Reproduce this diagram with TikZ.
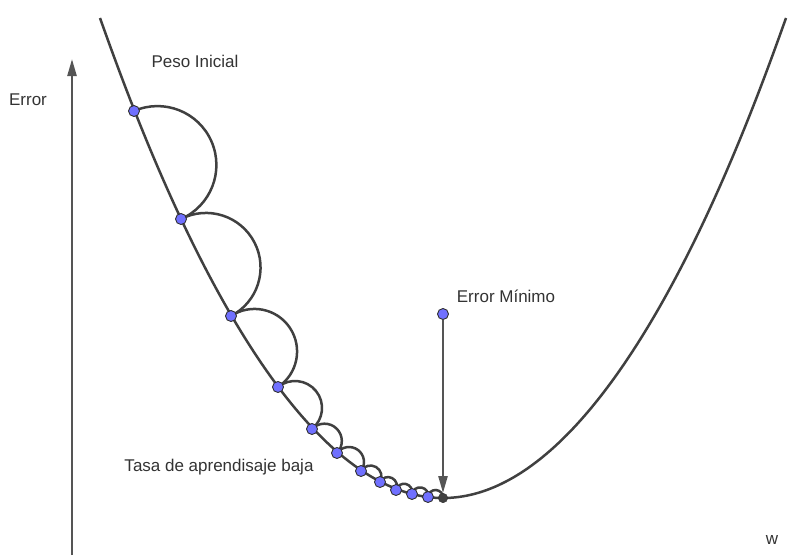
\documentclass[tikz,border=0pt]{standalone}
\usepackage{fontspec}
\setmainfont{Liberation Sans}
\usetikzlibrary{calc,arrows.meta}
\usepackage{xcolor}
\definecolor{CurveGray}{HTML}{404040}
\definecolor{ArrowGray}{HTML}{555555}
\definecolor{PointBlue}{HTML}{7070FF}
\definecolor{PointEdge}{HTML}{303030}
\definecolor{LabelGray}{HTML}{333333}

\tikzset{
  curve/.style={CurveGray, line width=2.5pt},
  hop/.style={CurveGray, line width=2.5pt},
  wpoint/.style={fill=PointBlue, draw=PointEdge, circle, line width=0.9pt, inner sep=0pt, minimum size=11pt},
  minpoint/.style={fill=CurveGray, draw=PointEdge, circle, inner sep=0pt, minimum size=9.5pt},
  lbl/.style={text=LabelGray, font=\fontsize{17}{20}\selectfont, inner sep=0pt},
  pointer/.style={ArrowGray, line width=2.4pt, -{Triangle[length=17pt,width=9pt]}}
}

\begin{document}
\begin{tikzpicture}[x=1pt,y=1pt]
		\useasboundingbox (0,0) rectangle (800,-555);
		
		% Axis
		\coordinate (axbot) at (72,-555);
		\coordinate (axtop) at (72,-59);
		\draw[pointer] (axbot) -- (axtop);
		
		% Error curve
		\draw[curve] (100,-18) parabola bend (443,-498) (786,-18);
		
		% Steps
		\coordinate (p1) at (134,-111);
		\coordinate (p2) at (181,-219);
		\coordinate (p3) at (231,-316);
		\coordinate (p4) at (278,-387);
		\coordinate (p5) at (312,-429);
		\coordinate (p6) at (337,-453);
		\coordinate (p7) at (361,-471);
		\coordinate (p8) at (380,-482);
		\coordinate (p9) at (396,-490);
		\coordinate (p10) at (412,-494);
		\coordinate (p11) at (428,-497);
		\coordinate (p12) at (443,-498);
		\foreach \a/\b in {p1/p2,p2/p3,p3/p4,p4/p5,p5/p6,p6/p7,p7/p8,p8/p9,p9/p10,p10/p11,p11/p12}
			\draw[hop] (\a) let \p1=($(\b)-(\a)$), \n1={atan2(\y1,\x1)+180}, \n2={veclen(\x1,\y1)/2} in
				arc[start angle=\n1, delta angle=-180, radius=\n2];
		
		% Minimum pointer
		\node[wpoint] (top) at (443,-314) {};
		\node[minpoint] (wmin) at (p12) {};
		\draw[pointer] (top) -- (wmin.north);
		
		% Points
		\foreach \i in {1,...,11}
			\node[wpoint] (w\i) at (p\i) {};
		
		% Labels
		\node[lbl] (ylabel) at (28,-100) {Error};
		\node[lbl] (start) at (195,-61) {Peso Inicial};
		\node[lbl] (minlabel) at (506,-296) {Error Mínimo};
		\node[lbl] (rate) at (219,-467) {Tasa de aprendisaje baja};
		\node[lbl] (xlabel) at (772,-540) {w};
	\end{tikzpicture}
\end{document}
